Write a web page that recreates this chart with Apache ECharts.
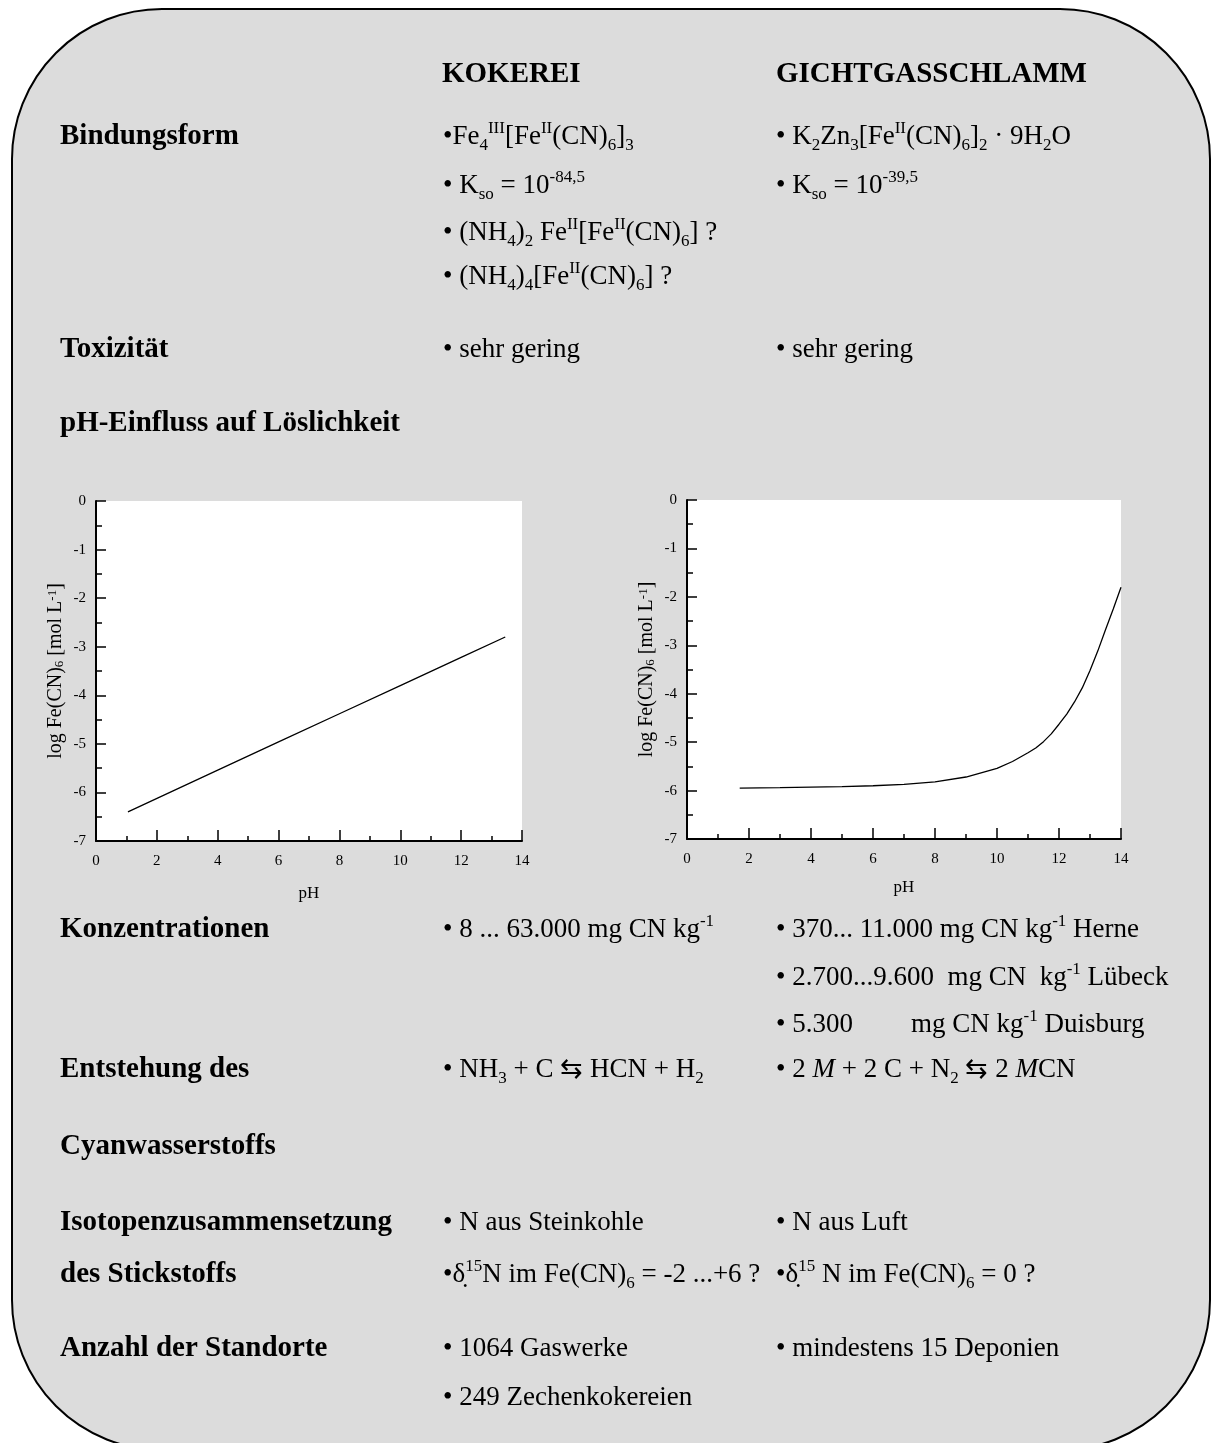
<!DOCTYPE html>
<html>
<head>
<meta charset="utf-8">
<script src="https://cdn.jsdelivr.net/npm/echarts@6/dist/echarts.min.js"></script>
<style>
html,body{margin:0;padding:0;background:#fff;}
#c{width:1211px;height:1443px;}
</style>
</head>
<body>
<div id="c"></div>
<script>
// ---- data ----
const phTicks = [0, 2, 4, 6, 8, 10, 12, 14];
const logTicks = [0, -1, -2, -3, -4, -5, -6, -7];
// KOKEREI: log Fe(CN)6 vs pH
const phKokerei = [1.05, 4, 6, 8, 10, 12, 13.45];
const logKokerei = [-6.4, -5.54, -4.96, -4.38, -3.8, -3.22, -2.8];
// GICHTGASSCHLAMM: log Fe(CN)6 vs pH
const phGicht = [1.7, 3, 4, 5, 6, 7, 8, 9, 10, 10.5, 11, 11.25, 11.5, 11.75, 12, 12.25, 12.5, 12.75, 13, 13.25, 13.5, 13.75, 14];
const logGicht = [-5.95, -5.94, -5.93, -5.92, -5.9, -5.87, -5.82, -5.72, -5.54, -5.4, -5.22, -5.12, -4.99, -4.83, -4.63, -4.42, -4.17, -3.88, -3.52, -3.12, -2.68, -2.25, -1.8];

const headers = ['KOKEREI', 'GICHTGASSCHLAMM'];
const rowLabels = [
  ['Bindungsform', 137], ['Toxizität', 350], ['pH-Einfluss auf Löslichkeit', 424],
  ['Konzentrationen', 930], ['Entstehung des', 1070], ['Cyanwasserstoffs', 1147],
  ['Isotopenzusammensetzung', 1223], ['des Stickstoffs', 1275], ['Anzahl der Standorte', 1349]
];
const col2Texts = [
  ['•Fe{sub|4}{sup|III}[Fe{sup|II}(CN){sub|6}]{sub|3}', 137],
  ['• K{sub|so} = 10{sup|-84,5}', 186],
  ['• (NH{sub|4}){sub|2} Fe{sup|II}[Fe{sup|II}(CN){sub|6}] ?', 233],
  ['• (NH{sub|4}){sub|4}[Fe{sup|II}(CN){sub|6}] ?', 277],
  ['• sehr gering', 350],
  ['• 8 ... 63.000 mg CN kg{sup|-1}', 930],
  ['• NH{sub|3} + C ⇆ HCN + H{sub|2}', 1070],
  ['• N aus Steinkohle', 1223],
  ['•δ̣{sup|15}N im Fe(CN){sub|6} = -2 ...+6 ?', 1275],
  ['• 1064 Gaswerke', 1349],
  ['• 249 Zechenkokereien', 1398]
];
const col3Texts = [
  ['• K{sub|2}Zn{sub|3}[Fe{sup|II}(CN){sub|6}]{sub|2} · 9H{sub|2}O', 137],
  ['• K{sub|so} = 10{sup|-39,5}', 186],
  ['• sehr gering', 350],
  ['• 370... 11.000 mg CN kg{sup|-1} Herne', 930],
  ['• 2.700...9.600  mg CN  kg{sup|-1} Lübeck', 978],
  ['• 5.300', 1025],
  ['• 2 {i|M} + 2 C + N{sub|2} ⇆ 2 {i|M}CN', 1070],
  ['• N aus Luft', 1223],
  ['•δ̣{sup|15} N im Fe(CN){sub|6} = 0 ?', 1275],
  ['• mindestens 15 Deponien', 1349]
];
const duisburgUnit = ['mg CN kg{sup|-1} Duisburg', 1025];

// ---- styles ----
const SERIF = '"Liberation Serif", "Times New Roman", serif';
const rich = {
  sub: {fontSize: 17, fontFamily: SERIF, fill: '#000', color: '#000', verticalAlign: 'bottom', lineHeight: 20},
  sup: {fontSize: 17, fontFamily: SERIF, fill: '#000', color: '#000', verticalAlign: 'top', lineHeight: 20},
  i: {fontSize: 27, fontFamily: SERIF, fontStyle: 'italic', fill: '#000', color: '#000', lineHeight: 34}
};

function txt(text, x, y, bold) {
  return {
    type: 'text', x: x, y: y, z: 10,
    style: {
      text: text,
      font: (bold ? 'bold 29px ' : '27px ') + SERIF,
      fill: '#000',
      align: 'left', verticalAlign: 'middle',
      lineHeight: 34,
      rich: rich
    }
  };
}

const graphics = [{
  type: 'rect', z: -10,
  shape: {x: 12, y: 9, width: 1198, height: 1441, r: 150},
  style: {fill: '#dcdcdc', stroke: '#000', lineWidth: 2}
}];
graphics.push(txt(headers[0], 442, 75, true));
graphics.push(txt(headers[1], 776, 75, true));
rowLabels.forEach(r => graphics.push(txt(r[0], 60, r[1], true)));
col2Texts.forEach(r => graphics.push(txt(r[0], 443, r[1], false)));
col3Texts.forEach(r => graphics.push(txt(r[0], 776, r[1], false)));
graphics.push(txt(duisburgUnit[0], 911, duisburgUnit[1], false));

function xAx(gi, gap) {
  return {
    type: 'value', gridIndex: gi, min: 0, max: 14, interval: 2,
    name: 'pH', nameLocation: 'middle', nameGap: gap,
    nameTextStyle: {fontFamily: SERIF, fontSize: 17, color: '#000'},
    axisLine: {show: true, onZero: false, lineStyle: {color: '#000', width: 2}},
    axisTick: {show: true, inside: true, length: 11, lineStyle: {color: '#000', width: 1.5}},
    minorTick: {show: true, splitNumber: 2, length: 5, lineStyle: {color: '#000', width: 1.5}},
    axisLabel: {fontFamily: SERIF, fontSize: 15, color: '#000', margin: 13,
      formatter: v => phTicks.indexOf(v) >= 0 ? String(v) : ''},
    splitLine: {show: false}
  };
}
function yAx(gi) {
  return {
    type: 'value', gridIndex: gi, min: -7, max: 0, interval: 1,
    name: 'log Fe(CN){sub|6} [mol L{sup|-1}]', nameLocation: 'middle', nameGap: 30, nameRotate: 90,
    nameTextStyle: {fontFamily: SERIF, fontSize: 20, color: '#000',
      rich: {
        sub: {fontFamily: SERIF, fontSize: 13, color: '#000', verticalAlign: 'bottom', lineHeight: 15},
        sup: {fontFamily: SERIF, fontSize: 13, color: '#000', verticalAlign: 'top', lineHeight: 15}
      }},
    axisLine: {show: true, onZero: false, lineStyle: {color: '#000', width: 2}},
    axisTick: {show: true, inside: true, length: 10, lineStyle: {color: '#000', width: 1.5}},
    minorTick: {show: true, splitNumber: 2, length: 6, lineStyle: {color: '#000', width: 1.5}},
    axisLabel: {fontFamily: SERIF, fontSize: 15, color: '#000', margin: 10,
      formatter: v => logTicks.indexOf(v) >= 0 ? String(v) : ''},
    splitLine: {show: false}
  };
}

const chart = echarts.init(document.getElementById('c'), null, {renderer: 'canvas'});
chart.setOption({
  backgroundColor: '#fff',
  animation: false,
  graphic: graphics,
  grid: [
    {left: 96, top: 501, width: 426, height: 340, show: true, backgroundColor: '#fff', borderWidth: 0},
    {left: 687, top: 500, width: 434, height: 339, show: true, backgroundColor: '#fff', borderWidth: 0}
  ],
  xAxis: [xAx(0, 44), xAx(1, 40)],
  yAxis: [yAx(0), yAx(1)],
  series: [
    {type: 'line', xAxisIndex: 0, yAxisIndex: 0, showSymbol: false, silent: true,
      data: phKokerei.map((p, i) => [p, logKokerei[i]]),
      lineStyle: {color: '#000', width: 1.3}},
    {type: 'line', xAxisIndex: 1, yAxisIndex: 1, showSymbol: false, silent: true,
      smooth: false,
      data: phGicht.map((p, i) => [p, logGicht[i]]),
      lineStyle: {color: '#000', width: 1.3}}
  ]
});
</script>
</body>
</html>
